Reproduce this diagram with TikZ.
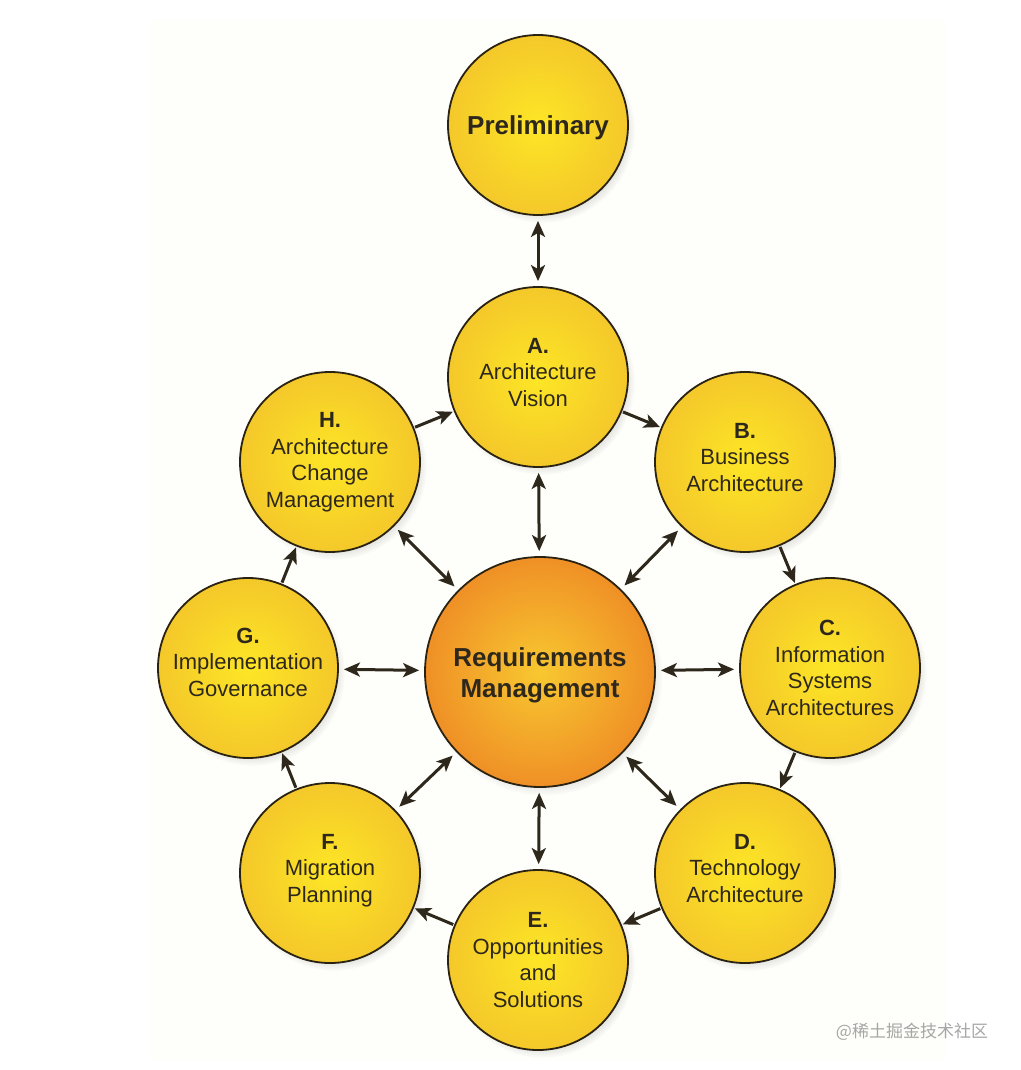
\documentclass[tikz,border=0pt]{standalone}
\usepackage{fontspec}
\setmainfont{Liberation Sans}
\newfontfamily\cjkfont{Noto Sans CJK SC}
\usetikzlibrary{arrows.meta,shadows}
\definecolor{ink}{HTML}{2E281C}
\definecolor{ringline}{HTML}{2A2212}
\definecolor{sunlight}{HTML}{FDE626}
\definecolor{sunedge}{HTML}{F4C82A}
\definecolor{coreglow}{HTML}{F8C830}
\definecolor{coreedge}{HTML}{EF9026}
\definecolor{paper}{HTML}{FEFEFA}
\tikzset{
  phase/.style={circle, draw=ringline, line width=1.8pt, minimum size=180pt, inner sep=0pt,
    inner color=sunlight, outer color=sunedge, text=ink, align=center,
    font=\fontsize{22}{26.5}\selectfont,
    circular drop shadow={shadow xshift=4pt, shadow yshift=-5pt, opacity=0.3, shadow scale=1.03}},
  core/.style={phase, minimum size=230pt, inner color=coreglow, outer color=coreedge,
    font=\fontsize{26}{31}\selectfont\bfseries},
  flow/.style={-{Stealth[length=16pt,width=14pt,inset=4pt]}, line width=3pt, draw=ink},
  link/.style={flow, {Stealth[length=16pt,width=14pt,inset=4pt]}-{Stealth[length=16pt,width=14pt,inset=4pt]}, shorten <=5pt, shorten >=5pt}
}
\newcommand{\phaseletter}[1]{\textbf{#1}\\}
\newcommand{\lowpad}{\rule[-10pt]{0pt}{10pt}}
\newcommand{\highpad}{\rule{0pt}{25pt}}
\begin{document}
\begin{tikzpicture}[x=1pt,y=-1pt]
\useasboundingbox (0,0) rectangle (1020,1070);
\fill[white] (0,0) rectangle (1020,1070);
\fill[paper] (150,20) rectangle (945,1060);

% the phases of the cycle
\node[phase, font=\fontsize{26}{31}\selectfont\bfseries] (prelim) at (538,125) {\highpad Preliminary};
\node[phase] (vision) at (538,377) {\phaseletter{A.}Architecture\\Vision\lowpad};
\node[phase] (business) at (745,462) {\phaseletter{B.}Business\\Architecture\lowpad};
\node[phase] (infosys) at (830,668) {\phaseletter{C.}Information\\Systems\\Architectures};
\node[phase] (tech) at (745,873) {\phaseletter{D.}Technology\\Architecture\lowpad};
\node[phase] (opps) at (538,960) {\phaseletter{E.}Opportunities\\and\\Solutions};
\node[phase] (migration) at (330,873) {\phaseletter{F.}Migration\\Planning\lowpad};
\node[phase] (governance) at (248,668) {\phaseletter{G.}Implementation\\Governance\rule[-12pt]{0pt}{12pt}};
\node[phase] (change) at (330,462) {\phaseletter{H.}Architecture\\Change\\Management};
\node[core] (reqs) at (540,672) {\highpad Requirements\\Management};

% ring arrows
\draw[flow, shorten <=1pt, shorten >=1pt] (vision) -- (business);
\draw[flow, shorten <=1pt, shorten >=1pt] (business) -- (infosys);
\draw[flow, shorten <=1pt, shorten >=1pt] (infosys) -- (tech);
\draw[flow, shorten <=1pt, shorten >=1pt] (tech) -- (opps);
\draw[flow, shorten <=1pt, shorten >=1pt] (opps) -- (migration);
\draw[flow, shorten <=1pt, shorten >=1pt] (migration) -- (governance);
\draw[flow, shorten <=1pt, shorten >=1pt] (governance) -- (change);
\draw[flow, shorten <=1pt, shorten >=1pt] (change) -- (vision);

% spokes to requirements
\draw[link] (prelim) -- (vision);
\foreach \p in {vision,business,infosys,tech,opps,migration,governance,change}
  \draw[link] (reqs) -- (\p);

\node[text=black!35, font=\cjkfont\fontsize{17}{20}\selectfont] (mark) at (912,1032) {@稀土掘金技术社区};
\end{tikzpicture}
\end{document}
